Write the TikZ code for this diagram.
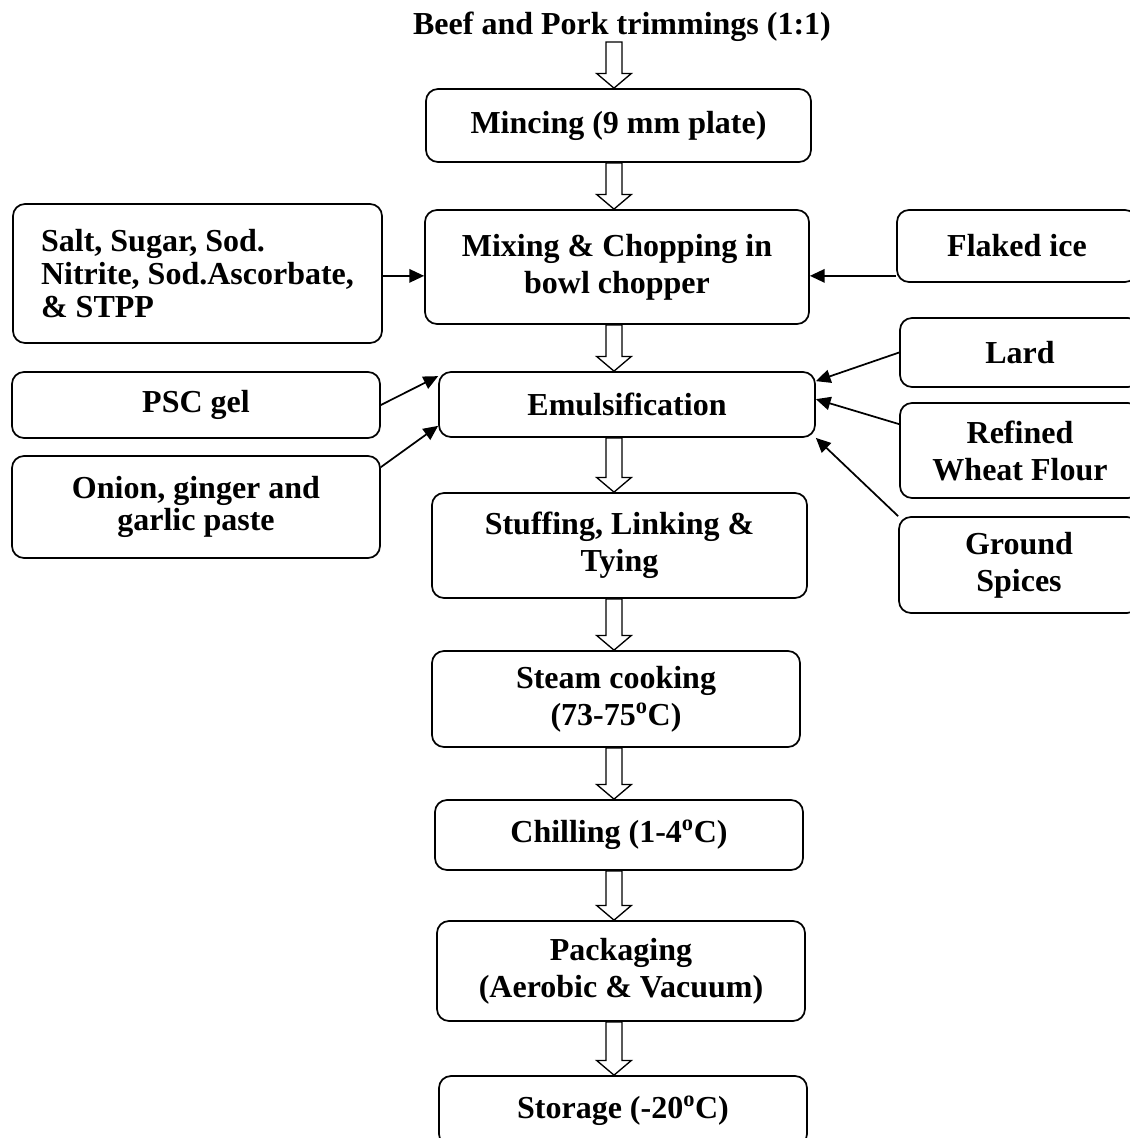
\documentclass[tikz,border=0pt]{standalone}
\usepackage{fontspec}
\setmainfont{Liberation Serif}
\usetikzlibrary{calc,arrows.meta}

\newcommand\hollowarrow[2]{%
  \draw[hollow] let \p1=(axis |- #1.south), \p2=(axis |- #2.north) in
    (\x1-6pt,\y1) -- (\x1-6pt,\y2+11pt) -- (\x1-13pt,\y2+11pt) -- (\x1,\y2)
    -- (\x1+13pt,\y2+11pt) -- (\x1+6pt,\y2+11pt) -- (\x1+6pt,\y1) -- cycle;}

\begin{document}
\begin{tikzpicture}[x=0.75pt,y=-0.75pt,font=\fontsize{24}{27.75}\selectfont\bfseries,
  stage/.style={draw,rounded corners=9pt,line width=1.3pt,align=center,inner sep=0pt,minimum width=276pt},
  ingr/.style={stage,minimum width=180pt},
  feed/.style={line width=1.3pt,-{Triangle[length=11pt,width=10pt]}},
  hollow/.style={draw,line width=1pt,fill=white}]
  \useasboundingbox (0,0) rectangle (1130,1138);
  \coordinate (axis) at (614,0);
  \node[inner sep=0pt] (beef) at (622,27){Beef and Pork trimmings (1:1)};
  \node[stage,minimum width=288.75pt,minimum height=54.75pt] (mince) at (618.5,125.5){Mincing (9 mm plate)};
  \node[stage,minimum width=288pt,minimum height=85.5pt] (mix) at (617,267){Mixing \& Chopping in\\bowl chopper};
  \node[stage,font=\fontsize{24}{24.5}\selectfont\bfseries\frenchspacing,align=left,minimum width=276.75pt,minimum height=104.25pt] (salt) at (197.5,273.5){Salt, Sugar, Sod.\\Nitrite, Sod.Ascorbate,\\\& STPP};
  \node[ingr,minimum height=54pt] (ice) at (1017,246){Flaked ice};
  \node[stage,minimum width=282pt,minimum height=48.75pt] (emul) at (627,404.5){Emulsification};
  \node[stage,minimum height=49.5pt] (psc) at (196,405){PSC gel};
  \node[stage,font=\fontsize{24}{24.5}\selectfont\bfseries,minimum height=76.5pt] (onion) at (196,507){Onion, ginger and\\garlic paste};
  \node[ingr,minimum height=51.75pt] (lard) at (1020,352.5){Lard};
  \node[ingr,minimum height=71.25pt] (flour) at (1020,450.5){Refined\\Wheat Flour};
  \node[ingr,minimum height=72pt] (spice) at (1019,565){Ground\\Spices};
  \node[stage,minimum width=281.25pt,minimum height=78.75pt] (stuff) at (619.5,545.5){Stuffing, Linking \&\\Tying};
  \node[stage,minimum height=72pt] (steam) at (616,699){Steam cooking\\(73-75\textsuperscript{o}C)};
  \node[stage,minimum height=52.5pt] (chill) at (619,835){Chilling (1-4\textsuperscript{o}C)};
  \node[stage,minimum height=75pt] (pack) at (621,971){Packaging\\(Aerobic \& Vacuum)};
  \node[stage,minimum height=52.5pt] (store) at (623,1111){Storage (-20\textsuperscript{o}C)};
  % main line
  \hollowarrow{beef}{mince}
  \hollowarrow{mince}{mix}
  \hollowarrow{mix}{emul}
  \hollowarrow{emul}{stuff}
  \hollowarrow{stuff}{steam}
  \hollowarrow{steam}{chill}
  \hollowarrow{chill}{pack}
  \hollowarrow{pack}{store}
  % ingredients
  \draw[feed] ([yshift=5.25pt]ice.south west) coordinate (fi) -- (fi -| mix.east);
  \draw[feed] (salt.east |- fi) -- (mix.west |- fi);
  \draw[feed] (psc.east) -- ([yshift=-3.75pt]emul.north west);
  \draw[feed] ([yshift=-9pt]onion.north east) -- ([yshift=9pt]emul.south west);
  \draw[feed] (lard.west) -- ([yshift=-7.5pt]emul.north east);
  \draw[feed] ([yshift=-16.5pt]flour.north west) -- ([yshift=4pt]emul.east);
  \draw[feed] (spice.north west) -- (emul.south east);
\end{tikzpicture}
\end{document}
